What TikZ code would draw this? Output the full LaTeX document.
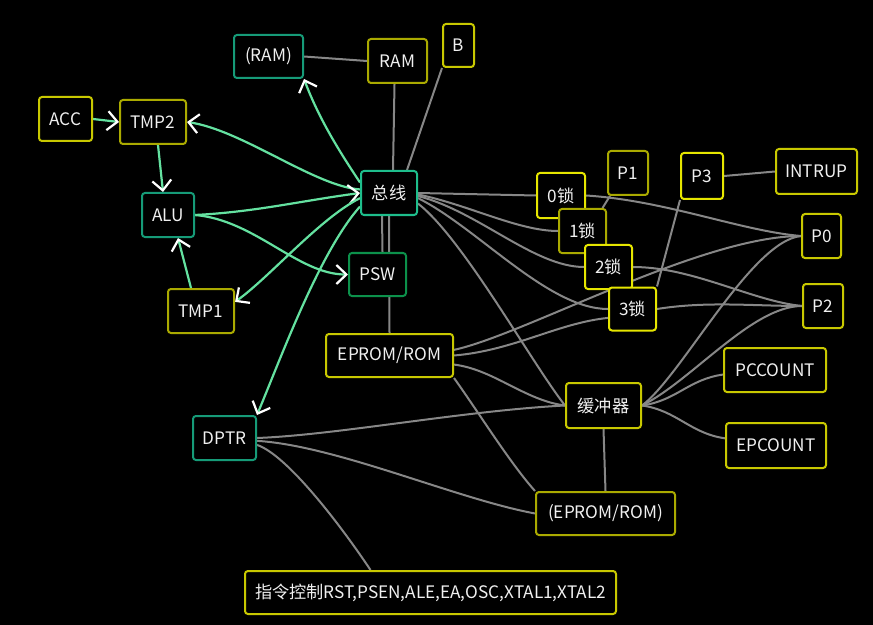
\documentclass[tikz,border=0pt]{standalone}
\usepackage{fontspec}
\setmainfont{Noto Sans CJK SC}
\usetikzlibrary{arrows.meta}
\pgfdeclarelayer{bg}\pgfdeclarelayer{edges}
\pgfsetlayers{bg,edges,main}
\definecolor{grn}{RGB}{100,225,160}
\definecolor{gry}{RGB}{135,135,135}
\definecolor{yel}{RGB}{200,200,0}
\definecolor{yelhi}{RGB}{230,230,0}
\definecolor{yello}{RGB}{170,170,0}
\definecolor{teal1}{RGB}{22,155,120}
\definecolor{teal2}{RGB}{30,190,140}
\definecolor{grnb}{RGB}{12,145,75}
\definecolor{txt}{RGB}{240,240,240}
\tikzset{
  box/.style={draw, rounded corners=3bp, line width=2bp, fill=black, text=txt,
    inner sep=0pt, font=\fontsize{17.2bp}{20bp}\selectfont},
  ybox/.style={box, draw=yel},
  ybhi/.style={box, draw=yelhi},
  yblo/.style={box, draw=yello},
  tbox/.style={box, draw=teal1},
  sz/.style 2 args={minimum width=#1bp, minimum height=#2bp},
  garrow/.style={draw=grn, line width=2.2bp,
    -{Straight Barb[length=10bp,width=19bp,color=white]}},
  gline/.style={draw=gry, line width=2bp},
}
\begin{document}
\begin{tikzpicture}[x=1bp,y=-1bp]
\begin{pgfonlayer}{bg}
\fill[black] (0,0) rectangle (873,625);
\end{pgfonlayer}
\useasboundingbox (0,0) rectangle (873,625);
% nodes
\node[tbox, sz={69}{43}] (ram2) at (268.5,56.5) {(RAM)};
\node[yblo, sz={59}{44}] (ram) at (397.5,61) {RAM};
\node[ybox, sz={31}{43}] (b) at (458.5,45.5) {B};
\node[ybox, sz={53}{44}] (acc) at (65.5,119) {ACC};
\node[yblo, sz={66}{44}] (tmp2) at (153,122) {TMP2};
\node[tbox, sz={52}{44}] (alu) at (168,215) {ALU};
\node[yblo, sz={66}{44}] (tmp1) at (201,311) {TMP1};
\node[box, draw=teal2, sz={56}{44}] (bus) at (389,193) {总线};
\node[box, draw=grnb, sz={57}{43}] (psw) at (377.5,274.5) {PSW};
\node[ybox, sz={127}{43}] (eprom) at (389.5,355.5) {EPROM/ROM};
\node[tbox, sz={63}{44}] (dptr) at (224.5,438) {DPTR};
\node[ybhi, sz={48}{45}] (l0) at (561,195.5) {0锁};
\node[yblo, sz={47}{44}] (l1) at (582.5,231) {1锁};
\node[ybhi, sz={47}{44}] (l2) at (608.5,267) {2锁};
\node[ybhi, sz={47}{43}] (l3) at (632.5,309) {3锁};
\node[yblo, sz={40}{44}] (p1) at (628,173) {P1};
\node[ybhi, sz={42}{46}] (p3) at (702,176) {P3};
\node[ybox, sz={81}{45}] (intrup) at (816.5,171.5) {INTRUP};
\node[ybox, sz={39}{44}] (p0) at (821.5,236) {P0};
\node[ybox, sz={40}{44}] (p2) at (823,306) {P2};
\node[ybox, sz={102}{44}] (pccount) at (775,370) {PCCOUNT};
\node[ybox, sz={100}{45}] (epcount) at (776,445.5) {EPCOUNT};
\node[ybox, sz={75}{45}] (buf) at (603.5,405.5) {缓冲器};
\node[yblo, sz={139}{43}] (eprom2) at (605.5,513.5) {(EPROM/ROM)};
\node[ybox, sz={371}{43}] (ctrl) at (430.5,592.5) {指令控制RST,PSEN,ALE,EA,OSC,XTAL1,XTAL2};
\begin{pgfonlayer}{edges}
% gray connectors
\path[gline] (ram2.east) -- (ram.west);
\path[gline] ([xshift=-3bp]ram.south) -- ([xshift=4bp]bus.north);
\path[gline] (b.south west) -- ([xshift=18bp]bus.north);
\path[gline] ([xshift=-7bp]bus.south) -- ([xshift=5bp]psw.north);
\path[gline] (bus.south) -- (eprom.north);
\path[gline] (bus.east) -- (l0.west);
\path[gline] (bus.-3) .. controls +(50,10) and +(-40,0) .. (l1.west);
\path[gline] (bus.-6) .. controls +(60,15) and +(-50,0) .. (l2.west);
\path[gline] (bus.-10) .. controls +(60,30) and +(-60,0) .. (l3.west);
\path[gline] (bus.-20) .. controls +(45,35) and +(-35,-45) .. (buf.west);
\path[gline] (l0.east) .. controls +(80,5) and +(-60,-5) .. (p0.west);
\path[gline] ([xshift=-18bp]p1.south) -- ([xshift=20bp]l1.north);
\path[gline] (p3.south west) -- (l3.north east);
\path[gline] (p3.east) -- (intrup.west);
\path[gline] (l2.east) .. controls +(60,0) and +(-50,-5) .. (p2.west);
\path[gline] (l3.east) .. controls +(50,-8) and +(-50,0) .. (p2.west);
\path[gline] (eprom.east) .. controls +(60,-5) and +(-50,5) .. (l3.200);
\path[gline] (eprom.5) .. controls +(70,-15) and +(-100,0) .. (p0.west);
\path[gline] (eprom.-8) .. controls +(40,5) and +(-40,-5) .. (buf.west);
\path[gline] (eprom.south east) .. controls +(25,35) and +(-25,-28) .. (eprom2.north west);
\path[gline] (buf.south) -- (eprom2.north);
\path[gline] (buf.east) .. controls +(35,-5) and +(-35,5) .. (pccount.185);
\path[gline] (buf.east) .. controls +(35,5) and +(-35,-5) .. (epcount.172);
\path[gline] (buf.east) .. controls +(40,-30) and +(-50,5) .. (p0.west);
\path[gline] (buf.east) .. controls +(50,-25) and +(-50,0) .. (p2.west);
\path[gline] (dptr.east) .. controls +(80,-3) and +(-100,5) .. (buf.west);
\path[gline] (dptr.-5) .. controls +(80,5) and +(-80,-15) .. (eprom2.west);
\path[gline] (dptr.-12) .. controls +(30,10) and +(-30,-45) .. ([xshift=-60bp]ctrl.north);
% green arrows
\path[garrow] (acc.east) -- (tmp2.west);
\path[garrow] (bus.173) .. controls +(-45,-3) and +(55,8) .. (tmp2.east);
\path[garrow] ([xshift=5bp]tmp2.south) -- ([xshift=-5bp]alu.north);
\path[garrow] ([xshift=-10bp]tmp1.north) -- ([xshift=10bp]alu.south);
\path[garrow] (alu.east) .. controls +(60,-3) and +(-60,8) .. (bus.west);
\path[garrow] (alu.east) .. controls +(60,5) and +(-50,0) .. (psw.west);
\path[garrow] (bus.190) .. controls +(-40,20) and +(35,-25) .. (tmp1.15);
\path[garrow] (bus.160) .. controls +(-20,-30) and +(15,40) .. (ram2.south east);
\path[garrow] (bus.205) .. controls +(-40,45) and +(25,-60) .. (dptr.north east);
\end{pgfonlayer}
\end{tikzpicture}
\end{document}
